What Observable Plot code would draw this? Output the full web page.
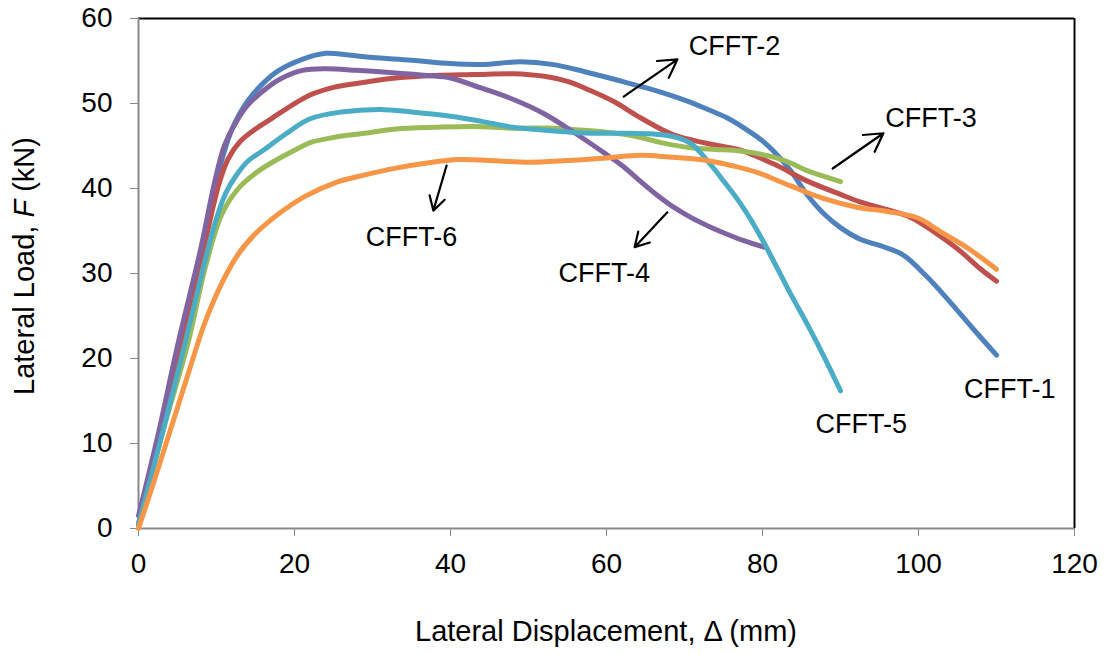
<!DOCTYPE html>
<html>
<head>
<meta charset="utf-8">
<script src="https://cdn.jsdelivr.net/npm/d3@7"></script>
<script src="https://cdn.jsdelivr.net/npm/@observablehq/plot@0.6"></script>
<style>
  html, body { margin: 0; padding: 0; background: #ffffff; }
  #chart svg { display: block; }
</style>
</head>
<body>
<div id="chart"></div>
<script>
// ---- Data ----
const seriesNames = ["CFFT-1", "CFFT-2", "CFFT-3", "CFFT-4", "CFFT-5", "CFFT-6"];
const seriesColors = ["#4F81BD", "#C0504D", "#9BBB59", "#8064A2", "#4BACC6", "#F79646"];

const cfft1X = [0, 3, 6, 8, 10, 12, 14, 16, 18, 21, 24, 27, 30, 35, 40, 44, 49, 53, 57, 62, 66, 70, 73, 75.5, 78, 80, 81.4, 83.6, 85.7, 87.9, 90, 92.6, 95, 98, 101, 104, 107, 110];
const cfft1Y = [0.5, 12, 24, 32, 41, 47, 50.3, 52.4, 53.9, 55.2, 55.9, 55.7, 55.4, 55.1, 54.7, 54.6, 54.9, 54.6, 53.8, 52.6, 51.6, 50.4, 49.3, 48.3, 46.9, 45.6, 44.4, 42.1, 39.3, 37, 35.4, 34, 33.3, 32.2, 29.7, 26.7, 23.5, 20.4];

const cfft2X = [0, 3, 6, 8.5, 10.3, 11.5, 13, 15, 17, 19.5, 22, 25, 29, 33, 38, 43, 48, 52, 55, 58, 61, 64.4, 68.6, 72.9, 77.2, 81.4, 85.7, 90, 92.6, 96, 99, 102, 105, 108, 110];
const cfft2Y = [0.5, 12, 23.5, 33.5, 40.5, 43.5, 45.5, 47, 48.2, 49.7, 51, 51.9, 52.5, 53, 53.3, 53.4, 53.5, 53.2, 52.6, 51.5, 50.2, 48.3, 46.3, 45.3, 44.5, 42.9, 40.9, 39.3, 38.4, 37.5, 36.6, 34.9, 32.9, 30.5, 29.1];

const cfft3X = [0, 3, 6.4, 8.5, 10.7, 12.8, 15, 17, 20, 22, 25, 29, 33, 38, 43, 48, 53, 58, 62, 64.4, 67, 70.8, 74, 77.2, 81.4, 83.6, 85.7, 88, 90];
const cfft3Y = [0.3, 11, 22, 30.5, 37, 40, 41.8, 43, 44.5, 45.4, 46, 46.5, 47, 47.2, 47.3, 47.1, 47.1, 46.8, 46.4, 46, 45.4, 44.8, 44.6, 44.4, 43.7, 43, 42.1, 41.4, 40.8];

const cfft4X = [0, 2.5, 5, 8, 9.7, 11, 12.5, 14, 16, 18, 21, 24, 28, 33, 37, 40, 44, 48, 52, 56, 60, 62, 64.4, 66.5, 68.6, 70.8, 73, 75, 77.5, 80.2];
const cfft4Y = [1.5, 11, 21.5, 33, 40.5, 45, 47.8, 49.8, 51.5, 52.8, 53.9, 54.1, 53.9, 53.6, 53.3, 53, 51.8, 50.5, 48.8, 46.5, 44, 42.7, 40.8, 39.2, 37.8, 36.6, 35.6, 34.8, 33.9, 33.1];

const cfft5X = [0, 3, 5.8, 8.8, 10, 11.2, 12.5, 14, 16, 19, 22, 26, 31, 35, 40, 44, 48, 53, 58, 62, 66, 68.6, 70.8, 72.9, 75, 77.2, 79.3, 81.4, 83.6, 85.7, 87.9, 90];
const cfft5Y = [0.5, 11, 21.2, 32.5, 36.5, 39.5, 41.5, 43.2, 44.5, 46.5, 48.2, 49, 49.3, 49, 48.5, 47.9, 47.2, 46.8, 46.5, 46.5, 46.4, 46.1, 45.3, 43.3, 40.9, 38.2, 35.1, 31.5, 27.6, 24.1, 20.2, 16.2];

const cfft6X = [0, 2, 4.3, 6.4, 8.5, 10.7, 12.8, 15, 17.1, 19, 21.4, 25.6, 29, 33, 37, 41, 45, 50, 55, 60, 64.4, 68, 72.9, 76, 79.3, 83.6, 87.9, 92.1, 96, 100, 103, 106.3, 110];
const cfft6Y = [0, 5.6, 12.2, 18.3, 24.2, 28.9, 32.3, 34.7, 36.4, 37.7, 39.1, 40.8, 41.6, 42.4, 43, 43.4, 43.3, 43.1, 43.3, 43.6, 43.9, 43.7, 43.3, 42.7, 41.9, 40.3, 38.8, 37.8, 37.3, 36.5, 34.8, 33, 30.5];

const xTicks = [0, 20, 40, 60, 80, 100, 120];
const yTicks = [0, 10, 20, 30, 40, 50, 60];

// Annotation labels (data coordinates of label centres)
const labelText = ["CFFT-1", "CFFT-2", "CFFT-3", "CFFT-4", "CFFT-5", "CFFT-6"];
const labelX = [111.7, 76.4, 101.6, 59.7, 92.65, 35.0];
const labelY = [16.35, 56.7, 48.2, 30.0, 12.2, 34.3];

// Annotation arrows
const arrowX1 = [62.2, 89.0, 39.5, 67.8];
const arrowY1 = [50.8, 42.35, 42.7, 37.2];
const arrowX2 = [69.1, 95.5, 37.8, 63.6];
const arrowY2 = [55.2, 46.5, 37.4, 33.1];

const xTitle = "Lateral Displacement, \u0394 (mm)";
const yTitleParts = [["Lateral Load, ", "normal"], ["F", "italic"], [" (kN)", "normal"]];

// ---- Build tables ----
const allX = [cfft1X, cfft2X, cfft3X, cfft4X, cfft5X, cfft6X];
const allY = [cfft1Y, cfft2Y, cfft3Y, cfft4Y, cfft5Y, cfft6Y];
const curves = [];
seriesNames.forEach((name, i) => {
  allX[i].forEach((x, j) => curves.push({series: name, x, y: allY[i][j]}));
});
const labels = labelText.map((t, i) => ({text: t, x: labelX[i], y: labelY[i]}));
const arrows = arrowX1.map((_, i) => ({x1: arrowX1[i], y1: arrowY1[i], x2: arrowX2[i], y2: arrowY2[i]}));

const FONT = "'Liberation Sans', Arial, Helvetica, sans-serif";

const chart = Plot.plot({
  width: 1109,
  height: 654,
  marginLeft: 138,
  marginRight: 35,
  marginTop: 18,
  marginBottom: 126,
  style: {fontFamily: FONT, fontSize: "28px", color: "black", background: "white"},
  x: {domain: [0, 120]},
  y: {domain: [0, 60]},
  color: {domain: seriesNames, range: seriesColors},
  marks: [
    Plot.axisX({ticks: xTicks, tickSize: 8, tickPadding: 17, stroke: "#898989", fill: "black", label: null, tickFormat: d => String(d)}),
    Plot.axisY({ticks: yTicks, tickSize: 8, tickPadding: 18, stroke: "#898989", fill: "black", label: null, tickFormat: d => String(d)}),
    Plot.ruleY([60], {stroke: "black", strokeWidth: 2}),
    Plot.ruleX([120], {stroke: "black", strokeWidth: 2}),
    Plot.ruleY([0], {stroke: "#898989", strokeWidth: 2}),
    Plot.ruleX([0], {stroke: "#898989", strokeWidth: 2}),
    Plot.line(curves, {x: "x", y: "y", z: "series", stroke: "series", strokeWidth: 5, curve: "catmull-rom", strokeLinecap: "round", strokeLinejoin: "round"}),
    Plot.arrow(arrows, {x1: "x1", y1: "y1", x2: "x2", y2: "y2", stroke: "black", strokeWidth: 2.2, headLength: 14, bend: 0}),
    Plot.text(labels, {x: "x", y: "y", text: "text", fontSize: 27, fill: "black", fontFamily: FONT})
  ]
});

const svg = d3.select(chart);
svg.append("text")
  .attr("x", 606)
  .attr("y", 641)
  .attr("text-anchor", "middle")
  .attr("font-family", FONT)
  .attr("font-size", 29)
  .attr("fill", "black")
  .text(xTitle);

const yt = svg.append("text")
  .attr("transform", "translate(34,266) rotate(-90)")
  .attr("text-anchor", "middle")
  .attr("font-family", FONT)
  .attr("font-size", 29)
  .attr("fill", "black");
yTitleParts.forEach(([t, s]) => yt.append("tspan").attr("font-style", s).text(t));

document.getElementById("chart").appendChild(chart);
</script>
</body>
</html>
